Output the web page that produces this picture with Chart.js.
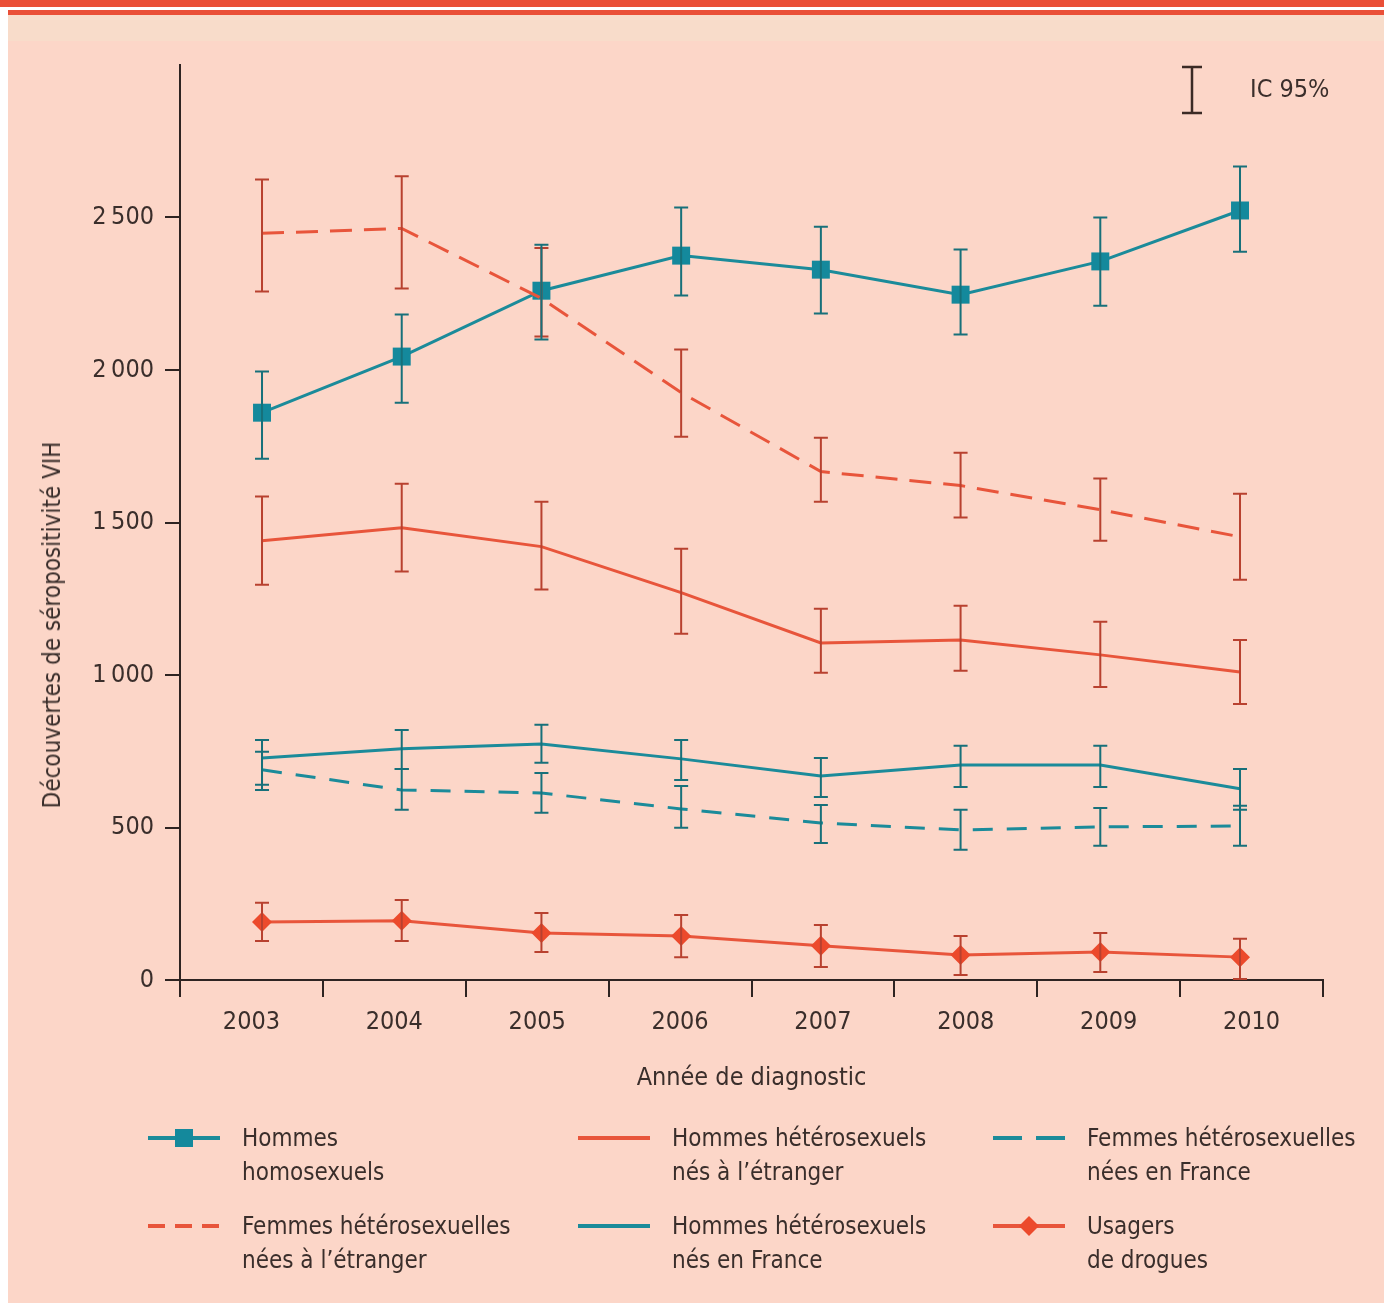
<!DOCTYPE html>
<html lang="fr">
<head>
<meta charset="utf-8">
<title>Découvertes de séropositivité VIH</title>
<script src="https://cdn.jsdelivr.net/npm/chart.js@4/dist/chart.umd.min.js"></script>
<style>
  html, body { margin: 0; padding: 0; background: #ffffff; }
  body { width: 1384px; height: 1310px; position: relative; overflow: hidden;
         font-family: 'Liberation Sans Narrow', 'DejaVu Sans Condensed', 'Roboto', sans-serif; color: #3a2e2b; }
  #panel { position: absolute; left: 8px; top: 14px; width: 1376px; height: 1289px; background: #fcd6c8; }
  #band1 { position: absolute; left: 0; top: 0; width: 1384px; height: 7px; background: #ea4f37; }
  #band2 { position: absolute; left: 8px; top: 10px; width: 1376px; height: 5px; background: #ea4f37; }
  #band3 { position: absolute; left: 8px; top: 15px; width: 1376px; height: 26px; background: #f8dcca; }
  #chart { position: absolute; left: 0; top: 0; }
  #ytitle { position: absolute; left: 52px; top: 625px; transform: translate(-50%, -50%) rotate(-90deg);
            white-space: nowrap; font-size: 24px; }
  .leg { position: absolute; font-size: 24px; line-height: 34px; white-space: nowrap; }
  .sym { position: absolute; }
</style>
</head>
<body>
<div id="panel"></div>
<div id="band1"></div>
<div id="band2"></div>
<div id="band3"></div>
<canvas id="chart" width="1384" height="1310"></canvas>
<div id="ytitle">Découvertes de séropositivité VIH</div>
<div id="legend"></div>
<script>
// Years of diagnosis
const years = [2003, 2004, 2005, 2006, 2007, 2008, 2009, 2010];
const yearLabels = ['2003', '2004', '2005', '2006', '2007', '2008', '2009', '2010'];
const yTickValues = [0, 500, 1000, 1500, 2000, 2500];

// Hommes homosexuels
const homo      = [1860, 2044, 2260, 2375, 2329, 2247, 2356, 2523];
const homoLow   = [1709, 1893, 2100, 2244, 2185, 2116, 2211, 2388];
const homoHigh  = [1995, 2182, 2411, 2533, 2470, 2395, 2500, 2667];

// Femmes hétérosexuelles nées à l'étranger
const femEtr     = [2448, 2464, 2235, 1926, 1667, 1621, 1542, 1453];
const femEtrLow  = [2257, 2267, 2110, 1781, 1568, 1516, 1440, 1312];
const femEtrHigh = [2625, 2635, 2400, 2067, 1778, 1729, 1644, 1594];

// Hommes hétérosexuels nés à l'étranger
const hetEtr     = [1440, 1483, 1421, 1270, 1105, 1115, 1066, 1010];
const hetEtrLow  = [1296, 1339, 1280, 1135, 1007, 1014, 961, 905];
const hetEtrHigh = [1585, 1627, 1568, 1414, 1217, 1227, 1175, 1115];

// Hommes hétérosexuels nés en France
const hetFr     = [728, 758, 774, 725, 669, 705, 705, 627];
const hetFrLow  = [640, 692, 712, 656, 600, 633, 633, 558];
const hetFrHigh = [787, 820, 837, 787, 728, 768, 768, 692];

// Femmes hétérosexuelles nées en France
const femFr     = [689, 623, 613, 561, 515, 492, 502, 505];
const femFrLow  = [623, 558, 548, 499, 449, 427, 440, 440];
const femFrHigh = [748, 692, 679, 636, 574, 558, 564, 571];

// Usagers de drogues
const udi     = [190, 194, 154, 144, 112, 82, 92, 75];
const udiLow  = [128, 128, 92, 75, 43, 16, 26, 3];
const udiHigh = [253, 262, 220, 213, 180, 144, 154, 135];

const TEAL = '#1b8b9a';
const TEAL_DARK = '#17707a';
const RED = '#e8553b';
const RED_DARK = '#b8412f';
const INK = '#2e2422';
const FONT = "'Liberation Sans Narrow', 'DejaVu Sans Condensed', 'Roboto', sans-serif";

const pts = vals => years.map((yr, i) => ({ x: yr, y: vals[i] }));

function series(label, vals, lo, hi, color, errColor, extra) {
  return Object.assign({
    label, data: pts(vals), errLow: lo, errHigh: hi, errColor,
    xAxisID: 'xd', yAxisID: 'y',
    borderColor: color, backgroundColor: color, borderWidth: 3,
    pointRadius: 0, pointHoverRadius: 0, tension: 0, fill: false
  }, extra || {});
}

const datasets = [
  series('Femmes hétérosexuelles nées à l\'étranger', femEtr, femEtrLow, femEtrHigh, RED, RED_DARK, { borderDash: [22, 12] }),
  series('Hommes hétérosexuels nés à l\'étranger', hetEtr, hetEtrLow, hetEtrHigh, RED, RED_DARK),
  series('Femmes hétérosexuelles nées en France', femFr, femFrLow, femFrHigh, TEAL, TEAL_DARK, { borderDash: [20, 14] }),
  series('Hommes hétérosexuels nés en France', hetFr, hetFrLow, hetFrHigh, TEAL, TEAL_DARK),
  series('Usagers de drogues', udi, udiLow, udiHigh, RED, RED_DARK,
         { pointStyle: 'rectRot', pointRadius: 10, pointBorderWidth: 0, backgroundColor: '#ec4a2c' }),
  series('Hommes homosexuels', homo, homoLow, homoHigh, TEAL, TEAL_DARK,
         { pointStyle: 'rect', pointRadius: 12.7, pointBorderWidth: 0, backgroundColor: '#14899c' })
];

// Vertical 95% CI bars with caps, positioned through the chart scales
const errorBars = {
  id: 'errorBars',
  afterDatasetsDraw(chart) {
    const ctx = chart.ctx, xs = chart.scales.xd, ys = chart.scales.y;
    chart.data.datasets.forEach(ds => {
      ctx.save();
      ctx.strokeStyle = ds.errColor;
      ctx.lineWidth = 2;
      ds.data.forEach((p, i) => {
        const x = xs.getPixelForValue(p.x);
        const yl = ys.getPixelForValue(ds.errLow[i]);
        const yh = ys.getPixelForValue(ds.errHigh[i]);
        ctx.beginPath();
        ctx.moveTo(x, yl); ctx.lineTo(x, yh);
        ctx.moveTo(x - 7, yl); ctx.lineTo(x + 7, yl);
        ctx.moveTo(x - 7, yh); ctx.lineTo(x + 7, yh);
        ctx.stroke();
      });
      ctx.restore();
    });
  }
};

// "IC 95%" key in the top-right corner
const ciKey = {
  id: 'ciKey',
  afterDraw(chart) {
    const ctx = chart.ctx;
    ctx.save();
    ctx.strokeStyle = '#3b2a25';
    ctx.lineWidth = 2.5;
    ctx.beginPath();
    ctx.moveTo(1192, 67); ctx.lineTo(1192, 113);
    ctx.moveTo(1182, 67); ctx.lineTo(1202, 67);
    ctx.moveTo(1182, 113); ctx.lineTo(1202, 113);
    ctx.stroke();
    ctx.fillStyle = '#3a2e2b';
    ctx.font = '25px ' + FONT;
    ctx.textBaseline = 'middle';
    ctx.fillText('IC 95%', 1250, 90);
    ctx.restore();
  }
};

const fmt = v => v >= 1000 ? String(Math.floor(v / 1000)) + '\u2009' + String(v % 1000).padStart(3, '0') : String(v);

new Chart(document.getElementById('chart'), {
  type: 'line',
  data: { labels: yearLabels, datasets },
  options: {
    responsive: false,
    animation: false,
    devicePixelRatio: 1,
    layout: { padding: { left: 0, top: 65, right: 61, bottom: 217 } },
    plugins: { legend: { display: false }, tooltip: { enabled: false } },
    scales: {
      x: {
        type: 'category',
        position: 'bottom',
        offset: true,
        afterFit: s => { s.height = 113; },
        grid: { display: true, offset: true, drawOnChartArea: false, drawTicks: true,
                tickLength: 17, color: INK, lineWidth: 2 },
        border: { display: true, color: INK, width: 2 },
        ticks: { color: '#3a2e2b', font: { family: FONT, size: 25 }, padding: 10, maxRotation: 0 },
        title: { display: true, text: 'Année de diagnostic', color: '#3a2e2b',
                 font: { family: FONT, size: 25 }, padding: { top: 4, bottom: 0 } }
      },
      xd: {
        type: 'linear',
        display: false,
        min: 2002.413,
        max: 2010.594
      },
      y: {
        type: 'linear',
        min: 0,
        max: 3000,
        afterFit: s => { s.width = 180; },
        afterBuildTicks: s => { s.ticks = yTickValues.map(v => ({ value: v })); },
        grid: { display: true, drawOnChartArea: false, drawTicks: true,
                tickLength: 15, color: INK, lineWidth: 2 },
        border: { display: true, color: INK, width: 2 },
        ticks: { color: '#3a2e2b', font: { family: FONT, size: 25 }, padding: 11,
                 callback: v => fmt(v) }
      }
    }
  },
  plugins: [errorBars, ciKey]
});

// Legend: three columns, two rows
const legendItems = [
  { col: 0, row: 0, lines: ['Hommes', 'homosexuels'], color: TEAL, marker: 'square' },
  { col: 1, row: 0, lines: ['Hommes hétérosexuels', 'nés à l\u2019étranger'], color: RED },
  { col: 2, row: 0, lines: ['Femmes hétérosexuelles', 'nées en France'], color: TEAL, dash: '29 14' },
  { col: 0, row: 1, lines: ['Femmes hétérosexuelles', 'nées à l\u2019étranger'], color: RED, dash: '17 10' },
  { col: 1, row: 1, lines: ['Hommes hétérosexuels', 'nés en France'], color: TEAL },
  { col: 2, row: 1, lines: ['Usagers', 'de drogues'], color: RED, marker: 'diamond' }
];
const colSym = [148, 578, 993];
const rowY = [1138, 1226];
const legend = document.getElementById('legend');
legendItems.forEach(it => {
  const sx = colSym[it.col], sy = rowY[it.row];
  let marker = '';
  if (it.marker === 'square') marker = `<rect x="27" y="9" width="18" height="18" fill="#14899c"/>`;
  if (it.marker === 'diamond') marker = `<polygon points="36,8 46,18 36,28 26,18" fill="#ec4a2c"/>`;
  const svg = `<svg class="sym" width="72" height="36" style="left:${sx}px;top:${sy - 18}px">
    <line x1="0" y1="18" x2="72" y2="18" stroke="${it.color}" stroke-width="4" ${it.dash ? `stroke-dasharray="${it.dash}"` : ''}/>
    ${marker}</svg>`;
  const txt = `<div class="leg" style="left:${sx + 94}px;top:${sy - 17}px">${it.lines.join('<br>')}</div>`;
  legend.insertAdjacentHTML('beforeend', svg + txt);
});
</script>
</body>
</html>
